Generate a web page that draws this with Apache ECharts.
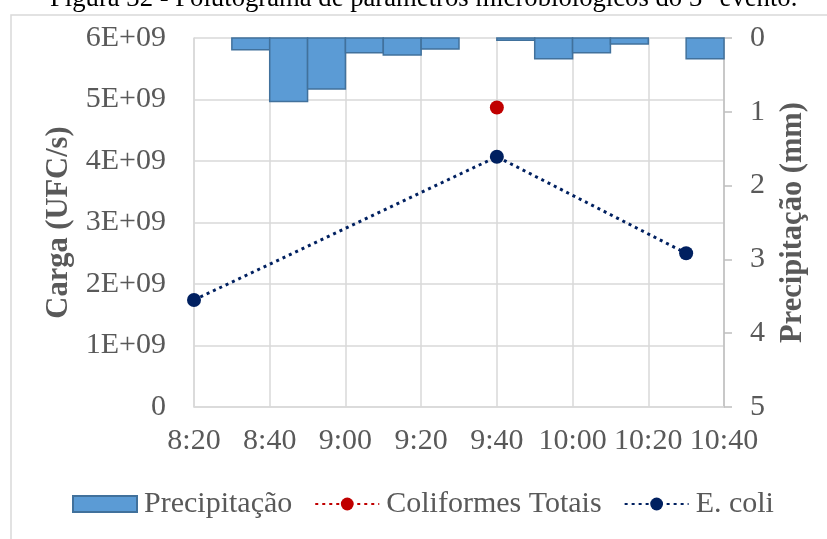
<!DOCTYPE html>
<html><head><meta charset="utf-8">
<script src="https://cdn.jsdelivr.net/npm/echarts@6/dist/echarts.min.js"></script>
<style>html,body{margin:0;padding:0;background:#fff}#c{width:827px;height:539px}</style>
</head><body><div id="c"></div>
<script>
// ---- data ----
const precipStart = ['8:30','8:40','8:50','9:00','9:10','9:20','9:30','9:40','9:50','10:00','10:10','10:20','10:30'];
const precipMm = [0.16,0.86,0.69,0.2,0.23,0.15,0,0.03,0.28,0.2,0.08,0,0.28];
const coliTimes = ['9:40'];
const coliValues = [4.87e9];
const ecoliTimes = ['8:20','9:40','10:30'];
const ecoliValues = [1.74e9,4.07e9,2.5e9];
const xTickLabels = ['8:20','8:40','9:00','9:20','9:40','10:00','10:20','10:40'];
const leftTickLabels = ['0','1E+09','2E+09','3E+09','4E+09','5E+09','6E+09'];
const rightTickLabels = ['0','1','2','3','4','5'];
const titleText = 'Figura 32 - Polutograma de parâmetros microbiológicos do 3° evento.';

const toMin = s => { const [h, m] = s.split(':').map(Number); return h * 60 + m; };
const xMin = toMin(xTickLabels[0]), xMax = toMin(xTickLabels[xTickLabels.length - 1]);
const xStep = 20, barSpan = 10;
const FONT = '"Liberation Serif", "Times New Roman", serif';
const GRAY = '#595959';

const chart = echarts.init(document.getElementById('c'), null, {renderer: 'canvas'});
chart.setOption({
  animation: false,
  backgroundColor: '#fff',
  graphic: [
    {type: 'rect', shape: {x: 11, y: 15, width: 900, height: 700}, style: {fill: 'none', stroke: '#d9d9d9', lineWidth: 1.5}, z: 0},
    {type: 'text', left: 50, top: -15, style: {text: titleText, font: '26.7px ' + FONT, fill: '#000'}}
  ],
  grid: {left: 194, right: 103, top: 38, bottom: 132},
  legend: {
    left: 67, top: 484, itemWidth: 64, itemHeight: 16, itemGap: 22,
    textStyle: {fontFamily: FONT, fontSize: 30, color: GRAY, padding: [0, 0, 0, 2]},
    data: [
      {name: 'Precipitação', icon: 'rect'},
      {name: 'Coliformes Totais'},
      {name: 'E. coli'}
    ]
  },
  xAxis: {
    type: 'value', min: xMin, max: xMax, interval: xStep,
    axisLine: {show: true, lineStyle: {color: '#d9d9d9', width: 1.5}},
    axisTick: {show: false},
    splitLine: {show: true, lineStyle: {color: '#d9d9d9', width: 1.5}},
    axisLabel: {
      fontFamily: FONT, fontSize: 30, color: GRAY, margin: 19,
      formatter: v => xTickLabels[Math.round((v - xMin) / xStep)]
    }
  },
  yAxis: [
    {
      type: 'value', min: 0, max: 6e9, interval: 1e9, position: 'left',
      name: 'Carga (UFC/s)', nameLocation: 'middle', nameGap: 111,
      nameTextStyle: {fontFamily: FONT, fontSize: 30.5, fontWeight: 'bold', color: GRAY},
      axisLine: {show: true, lineStyle: {color: '#d9d9d9', width: 1.5}},
      axisTick: {show: false},
      splitLine: {show: true, lineStyle: {color: '#d9d9d9', width: 1.5}},
      axisLabel: {
        fontFamily: FONT, fontSize: 30, color: GRAY, margin: 28,
        formatter: v => leftTickLabels[Math.round(v / 1e9)]
      }
    },
    {
      type: 'value', min: 0, max: 5, interval: 1, position: 'right', inverse: true,
      name: 'Precipitação (mm)', nameLocation: 'middle', nameGap: 54, nameRotate: 90,
      nameTextStyle: {fontFamily: FONT, fontSize: 30.5, fontWeight: 'bold', color: GRAY},
      axisLine: {show: true, lineStyle: {color: '#bfbfbf', width: 1.5}},
      axisTick: {show: true, inside: false, length: 8, lineStyle: {color: '#bfbfbf', width: 1.5}},
      splitLine: {show: false},
      axisLabel: {
        fontFamily: FONT, fontSize: 30, color: GRAY, margin: 26,
        formatter: v => rightTickLabels[Math.round(v)]
      }
    }
  ],
  series: [
    {
      name: 'Precipitação', type: 'custom', yAxisIndex: 1,
      itemStyle: {color: '#5B9BD5', borderColor: '#41719C', borderWidth: 1.5},
      data: precipStart.map((t, i) => [toMin(t), precipMm[i]]),
      encode: {x: 0, y: 1},
      renderItem: (params, api) => {
        const x0 = api.value(0), v = api.value(1);
        if (!v) return null;
        const p0 = api.coord([x0, 0]);
        const p1 = api.coord([x0 + barSpan, v]);
        return {
          type: 'rect',
          shape: {x: p0[0], y: p0[1], width: p1[0] - p0[0], height: p1[1] - p0[1]},
          style: {fill: '#5B9BD5', stroke: '#41719C', lineWidth: 1.5}
        };
      },
      z: 2
    },
    {
      name: 'Coliformes Totais', type: 'line', yAxisIndex: 0,
      data: coliTimes.map((t, i) => [toMin(t), coliValues[i]]),
      symbol: 'circle', symbolSize: 14, showSymbol: true,
      lineStyle: {color: '#C00000', width: 3, type: [3, 4]},
      itemStyle: {color: '#C00000'},
      z: 3
    },
    {
      name: 'E. coli', type: 'line', yAxisIndex: 0,
      data: ecoliTimes.map((t, i) => [toMin(t), ecoliValues[i]]),
      symbol: 'circle', symbolSize: 14,
      lineStyle: {color: '#002060', width: 3, type: [3, 4]},
      itemStyle: {color: '#002060'},
      z: 3
    }
  ]
});
</script>
</body></html>
